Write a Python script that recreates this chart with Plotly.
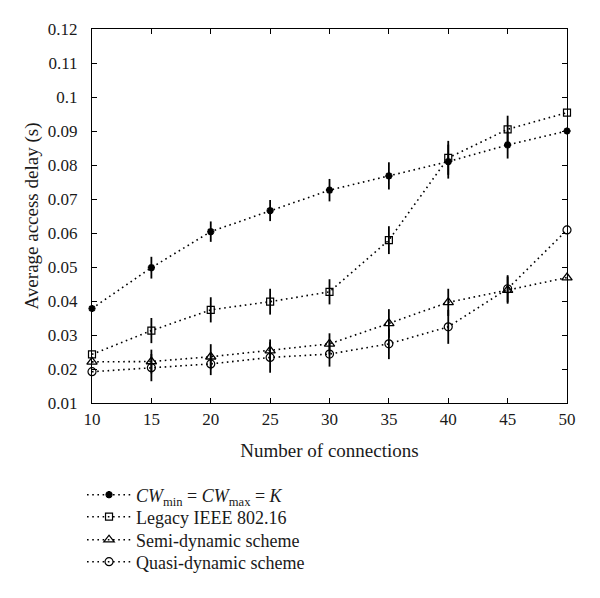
import plotly.graph_objects as go

# ---- data ----
connections = [10, 15, 20, 25, 30, 35, 40, 45, 50]

cw_fixed = [0.0378, 0.0498, 0.0604, 0.0666, 0.0726, 0.0768, 0.0810, 0.0859, 0.0900]
cw_fixed_err = [0.0, 0.0032, 0.0030, 0.0031, 0.0033, 0.0040, 0.0050, 0.0040, 0.0]

legacy = [0.0243, 0.0313, 0.0374, 0.0398, 0.0427, 0.0579, 0.0821, 0.0905, 0.0954]
legacy_err = [0.0, 0.0037, 0.0037, 0.0038, 0.0037, 0.0041, 0.0050, 0.0040, 0.0]

semi = [0.0221, 0.0222, 0.0236, 0.0254, 0.0274, 0.0334, 0.0396, 0.0432, 0.0469]
semi_err = [0.0, 0.0035, 0.0037, 0.0033, 0.0031, 0.0042, 0.0040, 0.0040, 0.0]

quasi = [0.0192, 0.0204, 0.0215, 0.0234, 0.0244, 0.0274, 0.0324, 0.0436, 0.0609]
quasi_err = [0.0, 0.0040, 0.0033, 0.0045, 0.0037, 0.0045, 0.0050, 0.0040, 0.0]

series_names = [
    "<i>CW</i><sub>min</sub> = <i>CW</i><sub>max</sub> = <i>K</i>",
    "Legacy IEEE 802.16",
    "Semi-dynamic scheme",
    "Quasi-dynamic scheme",
]

x_ticks = [10, 15, 20, 25, 30, 35, 40, 45, 50]
y_ticks = [0.01, 0.02, 0.03, 0.04, 0.05, 0.06, 0.07, 0.08, 0.09, 0.10, 0.11, 0.12]
y_tick_labels = ["0.01", "0.02", "0.03", "0.04", "0.05", "0.06", "0.07",
                 "0.08", "0.09", "0.1", "0.11", "0.12"]

x_title = "Number of connections"
y_title = "Average access delay (s)"

FONT = "Liberation Serif, Times New Roman, serif"
TXT = "#1a1a1a"
DOT = "1.6px,3.6px"

fig = go.Figure()

styles = [
    dict(symbol="asterisk-open", size=6, line=dict(color="black", width=2.2), color="black"),
    dict(symbol="square-open", size=7, line=dict(color="black", width=1.2), color="black"),
    dict(symbol="triangle-up-open", size=9, line=dict(color="black", width=1.3), color="black"),
    dict(symbol="circle-open", size=8, line=dict(color="black", width=1.2), color="black"),
]
legend_ids = ["legend", "legend2", "legend3", "legend4"]

for name, ys, errs, mk, lg in zip(series_names,
                                  [cw_fixed, legacy, semi, quasi],
                                  [cw_fixed_err, legacy_err, semi_err, quasi_err],
                                  styles, legend_ids):
    fig.add_trace(go.Scatter(
        x=connections, y=ys, name=name, mode="lines+markers",
        line=dict(color="black", width=1.6, dash=DOT),
        marker=mk,
        error_y=dict(type="data", array=errs, visible=True,
                     color="black", thickness=1.8, width=0),
        cliponaxis=False, legend=lg,
    ))

axis_common = dict(
    showline=True, linecolor="black", linewidth=1.2, mirror="ticks",
    ticks="inside", ticklen=5, tickwidth=1, tickcolor="black",
    showgrid=False, zeroline=False,
    tickfont=dict(family=FONT, size=17, color=TXT),
)

fig.update_xaxes(
    range=[10, 50], tickvals=x_ticks, ticktext=[str(v) for v in x_ticks],
    title=dict(text=x_title, font=dict(family=FONT, size=19, color=TXT), standoff=16),
    ticklabelstandoff=0,
    **axis_common,
)
fig.update_yaxes(
    range=[0.01, 0.12], tickvals=y_ticks, ticktext=y_tick_labels,
    title=dict(text=y_title, font=dict(family=FONT, size=19, color=TXT), standoff=4),
    ticklabelstandoff=10,
    **axis_common,
)

row_px = [495, 517, 540, 562]
plot_top, plot_bottom = 29, 403
leg_font = dict(family=FONT, size=18, color=TXT)
legends = {}
for lg, ypx in zip(legend_ids, row_px):
    legends[lg] = dict(
        x=-0.021, xanchor="left",
        y=(plot_bottom - ypx) / (plot_bottom - plot_top), yanchor="middle",
        font=leg_font, itemwidth=44, bgcolor="rgba(0,0,0,0)",
    )

fig.update_layout(
    width=600, height=598,
    margin=dict(l=92, r=33, t=29, b=195, autoexpand=False),
    paper_bgcolor="white", plot_bgcolor="white",
    showlegend=True,
    **legends,
)

fig.write_html("out.html", config={"displayModeBar": False},
               post_script="document.body.style.margin='0';")
